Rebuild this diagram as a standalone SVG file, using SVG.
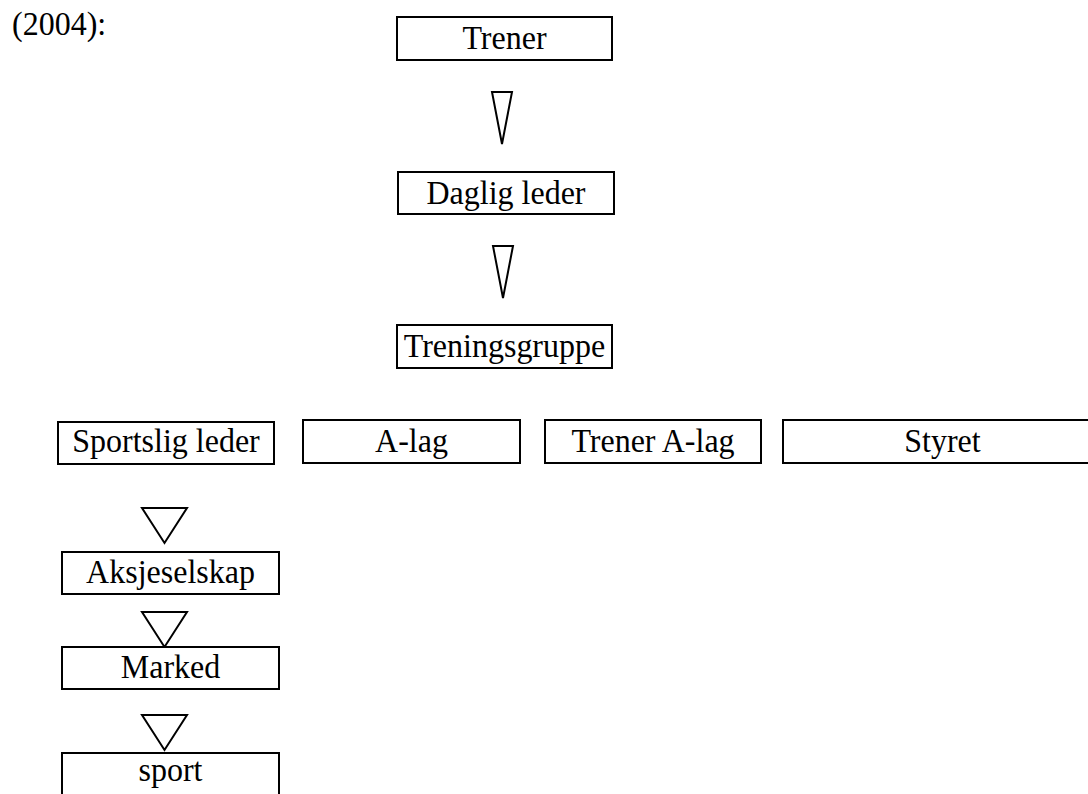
<svg xmlns="http://www.w3.org/2000/svg" width="1088" height="794" viewBox="0 0 1088 794">
<style>
  .box { fill: #fff; stroke: #000; stroke-width: 2; }
  .tri { fill: #fff; stroke: #000; stroke-width: 2; stroke-linejoin: miter; }
  text { font-family: "Liberation Serif", "Times New Roman", serif; font-size: 32px; fill: #000; }
  .c { text-anchor: middle; }
</style>
<rect width="1088" height="794" fill="#fff"/>
<text id="caption" transform="translate(12,35) scale(1,1.05)">(2004):</text>

<g id="connectors">
  <polygon class="tri" points="492,92 512,92 502,144"/>
  <polygon class="tri" points="493,246 513,246 503,298"/>
  <polygon class="tri" points="142,508 187,508 164.5,543"/>
  <polygon class="tri" points="142,612 187,612 164.5,647"/>
  <polygon class="tri" points="142,715 187,715 164.5,750"/>
</g>

<g id="trener"><rect class="box" x="397" y="17" width="215" height="43"/><text class="c" transform="translate(504.5,48.5) scale(1,1.05)">Trener</text></g>
<g id="daglig"><rect class="box" x="398" y="172" width="216" height="42"/><text class="c" transform="translate(506,203.5) scale(1,1.05)">Daglig leder</text></g>
<g id="treningsgruppe"><rect class="box" x="397" y="325" width="215" height="43"/><text class="c" transform="translate(504.5,357) scale(1,1.05)">Treningsgruppe</text></g>

<g id="sportslig"><rect class="box" x="58" y="422" width="216" height="42"/><text class="c" transform="translate(166,451.5) scale(1,1.05)">Sportslig leder</text></g>
<g id="alag"><rect class="box" x="303" y="420" width="217" height="43"/><text class="c" transform="translate(411.5,451.5) scale(1,1.05)">A-lag</text></g>
<g id="trenerAlag"><rect class="box" x="545" y="420" width="216" height="43"/><text class="c" transform="translate(653,451.5) scale(1,1.05)">Trener A-lag</text></g>
<g id="styret"><rect class="box" x="783" y="420" width="320" height="43"/><text class="c" transform="translate(942.5,451.5) scale(1,1.05)">Styret</text></g>

<g id="aksjeselskap"><rect class="box" x="62" y="552" width="217" height="42"/><text class="c" transform="translate(170.5,582.5) scale(1,1.05)">Aksjeselskap</text></g>
<g id="marked"><rect class="box" x="62" y="647" width="217" height="42"/><text class="c" transform="translate(170.5,677.5) scale(1,1.05)">Marked</text></g>
<g id="sport"><rect class="box" x="62" y="753" width="217" height="60"/><text class="c" transform="translate(170.5,780.5) scale(1,1.05)">sport</text></g>
</svg>
